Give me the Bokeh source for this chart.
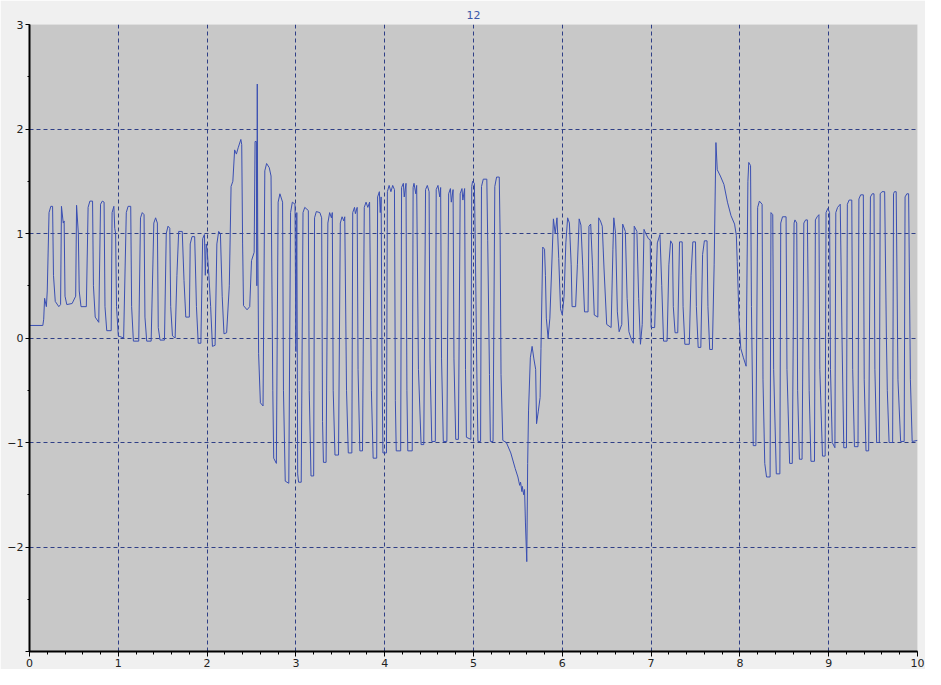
from bokeh.plotting import figure
from bokeh.models import Range1d, SingleIntervalTicker
from bokeh.embed import file_html
from bokeh.resources import INLINE

title_text = "12"
x_ticks = list(range(0, 11))
y_ticks = [-3, -2, -1, 0, 1, 2, 3]

# trace, in four pieces (time, value)
trace_a = [
    (0.00, 0.12), (0.15, 0.12), (0.16, 0.18), (0.17, 0.38), (0.19, 0.30), (0.20, 0.45),
    (0.22, 1.20), (0.24, 1.26), (0.26, 1.26), (0.27, 0.60), (0.29, 0.35), (0.33, 0.30),
    (0.35, 0.32), (0.36, 1.26), (0.38, 1.10), (0.39, 1.12), (0.40, 0.40), (0.42, 0.32), (0.48, 0.33),
    (0.52, 0.40), (0.53, 1.27), (0.55, 1.00), (0.56, 0.45), (0.58, 0.30), (0.64, 0.30),
    (0.66, 1.25), (0.68, 1.31), (0.71, 1.31), (0.72, 0.50), (0.74, 0.20), (0.78, 0.15),
    (0.80, 1.28), (0.82, 1.31), (0.84, 1.30), (0.85, 0.30), (0.87, 0.07), (0.92, 0.07),
    (0.93, 1.20), (0.95, 1.26), (0.96, 1.05), (0.97, 1.00), (0.98, 0.30), (1.00, 0.02), (1.06, 0.00),
    (1.09, 1.20), (1.11, 1.26), (1.14, 1.26), (1.15, 0.30), (1.17, -0.03), (1.23, -0.03),
    (1.25, 1.15), (1.27, 1.20), (1.29, 1.18), (1.30, 0.20), (1.32, -0.03), (1.37, -0.03),
    (1.40, 1.10), (1.42, 1.15), (1.44, 1.10), (1.45, 0.10), (1.47, -0.02), (1.52, -0.02),
    (1.54, 1.00), (1.56, 1.07), (1.58, 1.05), (1.59, 0.30), (1.61, 0.02), (1.64, 0.00),
    (1.66, 0.60), (1.68, 1.02), (1.72, 1.02), (1.74, 0.55), (1.76, 0.20), (1.80, 0.20),
    (1.81, 0.90), (1.83, 0.97), (1.86, 0.97), (1.88, 0.30), (1.90, -0.05), (1.93, -0.05),
    (1.95, 0.95), (1.97, 0.99), (1.98, 0.60), (1.99, 0.90), (2.00, 0.85), (2.02, 0.60),
    (2.04, 0.30), (2.06, -0.08), (2.09, -0.07),
    (2.11, 0.90), (2.13, 1.02), (2.15, 1.00), (2.17, 0.40), (2.19, 0.04), (2.22, 0.05),
    (2.25, 0.50), (2.27, 1.45), (2.29, 1.50), (2.31, 1.80), (2.33, 1.76), (2.35, 1.82),
    (2.38, 1.90), (2.39, 1.85), (2.40, 0.90), (2.41, 0.31), (2.45, 0.27), (2.48, 0.30),
    (2.50, 0.74), (2.53, 0.82), (2.54, 1.88), (2.555, 1.88), (2.56, 0.50), (2.565, 2.43),
    (2.57, 1.00), (2.58, -0.15), (2.60, -0.62), (2.63, -0.65),
]

trace_b = [
    (2.65, 1.60), (2.67, 1.67), (2.70, 1.63), (2.72, 1.55), (2.74, -0.50), (2.75, -1.15), (2.78, -1.20),
    (2.80, 1.30), (2.82, 1.38), (2.85, 1.30), (2.86, -0.50), (2.88, -1.37), (2.92, -1.39),
    (2.94, 1.20), (2.96, 1.30), (2.99, 1.28), (3.00, -0.13), (3.01, 1.20), (3.02, -1.30),
    (3.03, -1.38), (3.06, -1.38),
    (3.08, 1.20), (3.10, 1.25), (3.14, 1.22), (3.15, -0.50), (3.17, -1.32), (3.20, -1.32),
    (3.21, 1.15), (3.23, 1.21), (3.27, 1.20), (3.29, 1.15), (3.30, -0.80), (3.31, -1.19), (3.34, -1.19),
    (3.36, 1.10), (3.38, 1.20), (3.40, 1.15), (3.41, 1.20), (3.42, -0.50), (3.44, -1.12), (3.48, -1.12),
    (3.50, 1.10), (3.52, 1.16), (3.54, 1.12), (3.55, 1.16), (3.57, -0.50), (3.59, -1.10), (3.63, -1.10),
    (3.64, 1.20), (3.66, 1.25), (3.67, 1.19), (3.69, 1.25), (3.70, -0.30), (3.72, -1.08), (3.75, -1.08),
    (3.77, 1.25), (3.79, 1.30), (3.81, 1.25), (3.83, 1.30), (3.85, -0.50), (3.87, -1.15), (3.91, -1.15),
    (3.92, 1.35), (3.94, 1.40), (3.95, 1.20), (3.96, 1.35), (3.97, -0.30), (3.98, -1.10), (4.02, -1.10),
    (4.03, 1.40), (4.05, 1.46), (4.07, 1.40), (4.09, 1.46), (4.11, 1.42), (4.12, -0.60), (4.13, -1.08),
    (4.18, -1.08),
    (4.19, 1.44), (4.21, 1.48), (4.22, 1.35), (4.24, 1.48), (4.25, -0.50), (4.26, -1.08), (4.31, -1.08),
    (4.32, 1.44), (4.33, 1.48), (4.35, 1.38), (4.36, 1.46), (4.38, -0.30), (4.41, -1.02), (4.44, -1.02),
    (4.46, 1.42), (4.48, 1.46), (4.50, 1.40), (4.51, -0.20), (4.53, -0.99), (4.57, -0.99),
    (4.58, 1.42), (4.60, 1.46), (4.62, 1.35), (4.63, 1.44), (4.64, -0.20), (4.66, -0.99), (4.70, -0.99),
    (4.72, 1.38), (4.74, 1.43), (4.75, 1.30), (4.77, 1.42), (4.78, -0.20), (4.80, -0.97), (4.83, -0.97),
    (4.85, 1.38), (4.87, 1.43), (4.88, 1.32), (4.90, 1.43), (4.91, -0.30), (4.92, -0.95), (4.97, -0.97),
    (4.98, 1.45), (4.99, 1.50), (5.01, 1.48), (5.02, 0.90), (5.04, -0.50), (5.05, -0.99), (5.08, -0.99),
    (5.09, 1.45), (5.11, 1.52), (5.15, 1.52), (5.16, 0.93), (5.18, -0.35), (5.19, -0.99), (5.22, -0.99),
    (5.24, 1.45), (5.26, 1.54), (5.29, 1.54), (5.30, 0.98), (5.31, -0.35), (5.33, -0.98),
]

trace_c = [
    (5.37, -1.00), (5.42, -1.10), (5.47, -1.25), (5.50, -1.33), (5.52, -1.41), (5.53, -1.38),
    (5.545, -1.47), (5.55, -1.42), (5.565, -1.50), (5.575, -1.45), (5.585, -1.77), (5.60, -2.14),
    (5.61, -1.20), (5.62, -0.69), (5.64, -0.19), (5.66, -0.08), (5.68, -0.20), (5.70, -0.30),
    (5.71, -0.82), (5.73, -0.70), (5.75, -0.57), (5.76, -0.10), (5.78, 0.87), (5.80, 0.85),
    (5.81, 0.60), (5.82, 0.19), (5.84, 0.00), (5.86, 0.19), (5.88, 0.66), (5.90, 1.14),
    (5.92, 1.00), (5.94, 1.15), (5.96, 0.76), (5.98, 0.28), (6.00, 0.22), (6.02, 0.40),
    (6.04, 0.91), (6.06, 1.15), (6.08, 1.10), (6.10, 0.70), (6.11, 0.30), (6.15, 0.30),
    (6.17, 0.70), (6.19, 1.14), (6.21, 1.08), (6.23, 0.69), (6.25, 0.25), (6.29, 0.25),
    (6.30, 1.07), (6.32, 1.09), (6.34, 0.69), (6.36, 0.22), (6.40, 0.20), (6.41, 1.15),
    (6.43, 1.12), (6.45, 1.07), (6.47, 0.66), (6.50, 0.13), (6.55, 0.10), (6.57, 0.85),
    (6.58, 1.15), (6.60, 1.00), (6.62, 0.25), (6.64, 0.06), (6.67, 0.13), (6.68, 1.09),
    (6.71, 1.02), (6.73, 0.38), (6.75, 0.06), (6.78, -0.02), (6.80, -0.05), (6.81, 1.07),
    (6.84, 1.02), (6.86, 0.38), (6.88, -0.06), (6.90, 0.13), (6.92, 1.04), (6.94, 1.00),
    (6.97, 0.95), (6.99, 0.94), (7.00, 0.10), (7.04, 0.10), (7.07, 0.91), (7.10, 0.99),
    (7.12, 0.50), (7.14, -0.03), (7.18, -0.03), (7.20, 0.70), (7.22, 0.93), (7.24, 0.90),
    (7.25, 0.30), (7.27, 0.05), (7.30, 0.05), (7.32, 0.92), (7.35, 0.92), (7.36, 0.30),
    (7.38, -0.06), (7.43, -0.06), (7.45, 0.60), (7.47, 0.92), (7.50, 0.92), (7.51, 0.30),
    (7.53, -0.09), (7.56, -0.09), (7.58, 0.80), (7.60, 0.93), (7.63, 0.93), (7.64, 0.30),
    (7.66, -0.11), (7.69, -0.11), (7.71, 0.70),
]

trace_d = [
    (7.73, 1.87), (7.745, 1.61), (7.78, 1.55), (7.82, 1.47), (7.86, 1.30), (7.90, 1.17),
    (7.94, 1.09), (7.96, 0.98), (7.97, 0.73), (7.99, 0.19), (8.01, -0.10), (8.04, -0.19),
    (8.07, -0.27), (8.09, 1.50), (8.10, 1.68), (8.12, 1.65), (8.13, 0.30), (8.15, -1.03),
    (8.18, -1.03), (8.20, 1.25), (8.22, 1.31), (8.25, 1.28), (8.26, -0.40), (8.28, -1.20),
    (8.30, -1.33), (8.34, -1.33), (8.35, 1.20), (8.37, 1.18), (8.38, -0.30), (8.41, -1.30),
    (8.45, -1.30), (8.46, 1.10), (8.48, 1.16), (8.52, 1.16), (8.53, -0.30), (8.56, -1.20),
    (8.59, -1.20), (8.61, 1.10), (8.62, 1.13), (8.64, 1.10), (8.65, -0.50), (8.67, -1.16),
    (8.70, -1.16), (8.72, 1.10), (8.74, 1.13), (8.76, 1.13), (8.78, -0.50), (8.80, -1.18),
    (8.84, -1.18), (8.85, 1.13), (8.87, 1.16), (8.89, 1.18), (8.90, -0.30), (8.93, -1.13),
    (8.96, -1.13), (8.97, 1.20), (8.99, 1.24), (9.01, 1.20), (9.02, -0.30), (9.04, -1.00),
    (9.07, -1.05), (9.08, 1.20), (9.10, 1.25), (9.13, 1.28), (9.15, 0.00), (9.17, -1.05),
    (9.20, -1.05), (9.21, 1.28), (9.23, 1.32), (9.26, 1.32), (9.27, -0.30), (9.29, -1.04),
    (9.33, -1.04), (9.34, 1.33), (9.36, 1.37), (9.39, 1.37), (9.40, -0.40), (9.42, -1.08),
    (9.45, -1.08), (9.47, 1.35), (9.49, 1.38), (9.51, 1.38), (9.52, -0.30), (9.54, -1.00),
    (9.57, -1.00), (9.58, 1.38), (9.60, 1.40), (9.63, 1.40), (9.65, 0.00), (9.66, -0.50),
    (9.68, -1.00), (9.72, -1.00), (9.73, 1.38), (9.74, 1.40), (9.76, 1.40), (9.78, -0.40),
    (9.81, -0.99), (9.85, -0.99), (9.86, 1.35), (9.88, 1.38), (9.90, 1.38), (9.92, -0.40),
    (9.94, -0.99), (10.00, -0.98),
]

points = trace_a + trace_b + trace_c + trace_d
xs = [pt[0] for pt in points]
ys = [pt[1] for pt in points]

FONT = "DejaVu Sans"
GRID = "#2f3f86"

p = figure(width=925, height=669, output_backend="svg", toolbar_location=None,
           x_range=Range1d(0, 10), y_range=Range1d(-3, 3),
           min_border_left=29, min_border_right=8, min_border_top=24, min_border_bottom=0,
           title=title_text)

p.title.align = "center"
p.title.text_color = "#3a58a8"
p.title.text_font = FONT
p.title.text_font_size = "11px"
p.title.text_font_style = "normal"
p.title.standoff = 12
p.title.offset = -3

p.background_fill_color = "#c8c8c8"
p.border_fill_color = "#f0f0f0"
p.outline_line_color = None

p.line(xs, ys, line_color="#3a4fb2", line_width=1)

p.xaxis.ticker = SingleIntervalTicker(interval=1, num_minor_ticks=5)
p.yaxis.ticker = SingleIntervalTicker(interval=1, num_minor_ticks=2)
p.yaxis.major_label_overrides = {-3: ""}

for ax in (p.xaxis[0], p.yaxis[0]):
    ax.axis_line_color = "#000000"
    ax.axis_line_width = 2
    ax.major_tick_line_color = "#000000"
    ax.minor_tick_line_color = "#000000"
    ax.major_tick_in = 0
    ax.minor_tick_in = 0
    ax.major_label_text_font = FONT
    ax.major_label_text_font_size = "11px"
    ax.major_label_text_color = "#222222"

p.xaxis.major_tick_out = 5
p.xaxis.minor_tick_out = 3
p.xaxis.major_label_standoff = 2
p.yaxis.major_tick_out = 4
p.yaxis.minor_tick_out = 2
p.yaxis.major_label_standoff = 2

for g in (p.xgrid[0], p.ygrid[0]):
    g.grid_line_color = GRID
    g.grid_line_dash = "4 3"
    g.grid_line_width = 1
    g.grid_line_alpha = 1.0

open("out.html", "w").write(file_html(p, INLINE))
